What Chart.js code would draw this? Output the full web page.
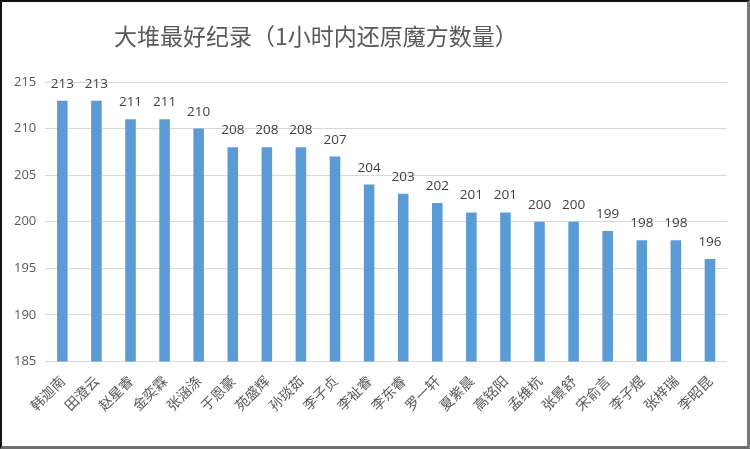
<!DOCTYPE html>
<html>
<head>
<meta charset="utf-8">
<script src="https://cdn.jsdelivr.net/npm/chart.js@4.4.1/dist/chart.umd.min.js"></script>
<style>
  html, body { margin: 0; padding: 0; background: #fff; }
  #frame {
    width: 750px; height: 449px; box-sizing: border-box;
    border-top: 2px solid #111; border-left: 2px solid #111;
    border-right: 3px solid #7a7a7a; border-bottom: 3px solid #6e6e6e;
    position: relative;
  }
  #wrap { position: absolute; left: 0; top: 0; width: 745px; height: 444px; }
</style>
</head>
<body>
<div id="frame"><div id="wrap"><canvas id="chart"></canvas></div></div>
<script>
const chartTitle = '大堆最好纪录（1小时内还原魔方数量）';
const names = ['韩迦南', '田澄云', '赵星睿', '金奕霖', '张涵涤', '于恩豪', '苑盛辉', '孙琰茹', '李子贞', '李祉睿',
               '李东睿', '罗一轩', '夏紫晨', '高铭阳', '孟维杭', '张景舒', '宋俞言', '李子煜', '张梓瑞', '李昭昆'];
const cubes = [213, 213, 211, 211, 210, 208, 208, 208, 207, 204,
               203, 202, 201, 201, 200, 200, 199, 198, 198, 196];
const yMin = 185;
const yMax = 215;
const yStep = 5;

// value labels above each bar
const valueLabels = {
    id: 'valueLabels',
    afterDatasetsDraw(chart) {
        const ctx = chart.ctx;
        const meta = chart.getDatasetMeta(0);
        ctx.save();
        ctx.font = '13.5px "Open Sans", "Liberation Sans", sans-serif';
        ctx.fillStyle = '#404040';
        ctx.textAlign = 'center';
        ctx.textBaseline = 'bottom';
        meta.data.forEach((bar, i) => {
            ctx.fillText(chart.data.datasets[0].data[i], bar.x, bar.y - 10);
        });
        ctx.restore();
    }
};

// title sits left of centre like the spreadsheet original
const offsetTitle = {
    id: 'offsetTitle',
    afterDraw(chart) {
        const ctx = chart.ctx;
        ctx.save();
        ctx.font = '23px "Noto Sans CJK SC", sans-serif';
        ctx.fillStyle = '#595959';
        ctx.textAlign = 'left';
        ctx.textBaseline = 'middle';
        ctx.fillText(chartTitle, 112, 34);
        ctx.restore();
    }
};

new Chart(document.getElementById('chart'), {
    type: 'bar',
    data: {
        labels: names,
        datasets: [{
            data: cubes,
            backgroundColor: '#5b9bd5',
            borderWidth: 0,
            categoryPercentage: 1,
            barPercentage: 0.31
        }]
    },
    options: {
        responsive: true,
        maintainAspectRatio: false,
        animation: false,
        layout: { padding: { top: 80, left: 3, right: 20, bottom: 29 } },
        plugins: {
            legend: { display: false },
            tooltip: { enabled: false }
        },
        scales: {
            x: {
                grid: { display: false },
                border: { display: false },
                ticks: {
                    color: '#595959',
                    font: { family: '"Noto Sans CJK SC", sans-serif', size: 14 },
                    minRotation: 45,
                    maxRotation: 45,
                    autoSkip: false,
                    padding: 3
                }
            },
            y: {
                min: yMin,
                max: yMax,
                border: { display: false },
                grid: { color: '#d9d9d9', lineWidth: 1, drawTicks: false },
                ticks: {
                    stepSize: yStep,
                    color: '#595959',
                    font: { family: '"Open Sans", "Liberation Sans", sans-serif', size: 13 },
                    padding: 9
                }
            }
        }
    },
    plugins: [valueLabels, offsetTitle]
});
</script>
</body>
</html>
